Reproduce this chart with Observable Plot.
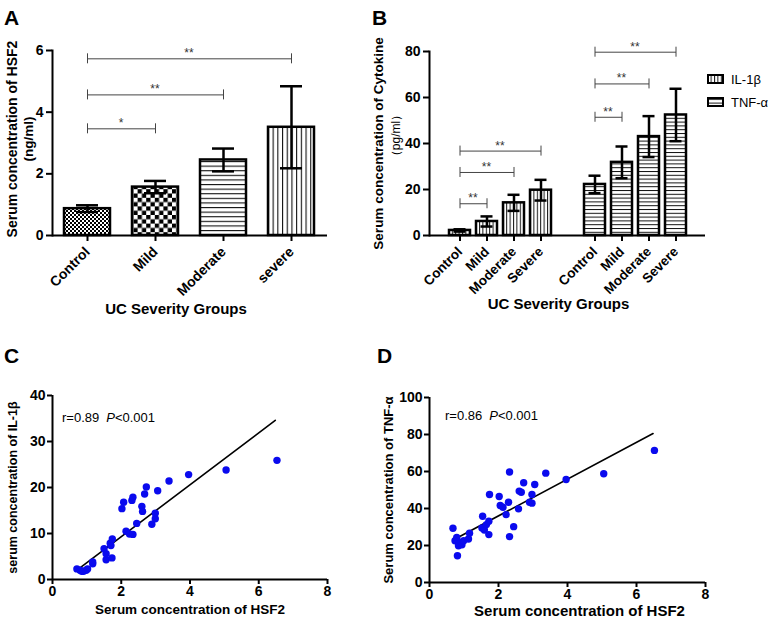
<!DOCTYPE html>
<html><head><meta charset="utf-8">
<script src="https://cdn.jsdelivr.net/npm/d3@7"></script>
<script src="https://cdn.jsdelivr.net/npm/@observablehq/plot@0.6"></script>
<style>
body{margin:0;background:#fff;}
#fig{position:relative;width:779px;height:624px;overflow:hidden;font-family:Arial,"Liberation Sans",Helvetica,sans-serif;}
</style></head><body><div id="fig"></div>
<script>
// ---------------- data ----------------
// Panel A: serum HSF2 by UC severity (mean, error)
const groupsA = ["Control", "Mild", "Moderate", "severe"];
const hsf2Mean = [0.87, 1.57, 2.45, 3.51];
const hsf2Err = [0.11, 0.2, 0.37, 1.33];
const sigATo = ["Mild", "Moderate", "severe"];
const sigAY = [3.46, 4.56, 5.73];
const sigALabel = ["*", "**", "**"];
const ticksA = [0, 2, 4, 6];

// Panel B: cytokines by UC severity
const groupsB = ["Control", "Mild", "Moderate", "Severe"];
const cytokines = ["IL-1β", "TNF-α"];
const il1bMean = [2.2, 6.1, 14.2, 19.7];
const il1bErr = [0.5, 2.2, 3.5, 4.5];
const tnfMean = [22.2, 31.8, 43.0, 52.4];
const tnfErr = [3.8, 6.9, 8.9, 11.4];
const sigBCyto = ["IL-1β", "IL-1β", "IL-1β", "TNF-α", "TNF-α", "TNF-α"];
const sigBTo = ["Mild", "Moderate", "Severe", "Mild", "Moderate", "Severe"];
const sigBY = [13.8, 27.4, 36.7, 51.4, 65.9, 79.7];
const sigBLabel = ["**", "**", "**", "**", "**", "**"];
const ticksB = [0, 20, 40, 60, 80];

// Panel C: HSF2 vs IL-1β
const hsf2C = [0.71,0.8,0.85,0.9,0.98,1.02,1.17,1.17,1.5,1.56,1.56,1.68,1.7,1.73,1.74,2.02,2.07,2.14,2.24,2.34,2.31,2.34,2.45,2.6,2.62,2.68,2.73,2.89,2.99,2.99,3.06,3.39,3.96,5.05,6.53];
const il1bC = [2.3,2.0,1.8,1.8,2.0,2.3,3.4,3.8,6.7,4.3,5.6,7.9,7.4,4.7,8.8,15.4,16.8,10.5,9.9,9.8,17.2,17.9,12.2,15.9,14.8,18.6,20.1,12.0,13.2,14.4,19.3,21.4,22.8,23.8,25.9];
const fitCX = [0.76, 6.48];
const fitCY = [2.3, 34.6];
const ticksCX = [0, 2, 4, 6, 8];
const ticksCY = [0, 10, 20, 30, 40];

// Panel D: HSF2 vs TNF-α
const hsf2D = [0.68,0.74,0.79,0.81,0.84,0.91,0.94,0.99,1.13,1.16,1.52,1.54,1.59,1.65,1.72,1.72,1.74,2.02,2.05,2.13,2.22,2.29,2.32,2.32,2.44,2.58,2.6,2.66,2.73,2.9,2.97,2.97,3.05,3.37,3.96,5.05,6.52];
const tnfD = [29.3,22.6,24.4,14.5,19.9,21.7,20.4,22.6,23.5,26.6,29.5,35.8,28.4,31.3,33.1,25.9,47.6,46.5,41.6,40.7,36.7,43.4,24.8,59.7,30.2,39.8,49.4,48.8,53.9,43.4,42.9,47.6,53.0,59.1,55.7,58.8,71.4];
const fitDX = [0.70, 6.48];
const fitDY = [23.1, 80.5];
const ticksDY = [0, 20, 40, 60, 80, 100];

// ---------------- styles ----------------
const FONT = 'Arial, "Liberation Sans", Helvetica, sans-serif';
const patA = {Control: "url(#pChkFine)", Mild: "url(#pChkCoarse)", Moderate: "url(#pHA)", severe: "url(#pVA)"};
const patB = {"IL-1β": "url(#pVB)", "TNF-α": "url(#pHB)"};
const baseStyle = {background: "none", overflow: "visible", fontFamily: FONT, fontSize: "14px", fontWeight: "bold", color: "black"};
const intFmt = d => String(d);

const fig = document.getElementById("fig");
function place(node, left, top) {
  node.style.position = "absolute";
  node.style.left = left + "px";
  node.style.top = top + "px";
  fig.appendChild(node);
}

// pattern defs + overlay texts
const overlay = d3.create("svg").attr("width", 779).attr("height", 624)
  .style("font-family", FONT);
const defs = overlay.append("defs");
function pat(id, w, h, draw) {
  const p = defs.append("pattern").attr("id", id).attr("patternUnits", "userSpaceOnUse").attr("width", w).attr("height", h);
  p.append("rect").attr("width", w).attr("height", h).attr("fill", "white");
  draw(p);
}
pat("pChkFine", 4, 4, p => { p.append("rect").attr("width", 2).attr("height", 2); p.append("rect").attr("x", 2).attr("y", 2).attr("width", 2).attr("height", 2); });
pat("pChkCoarse", 8.6, 8.6, p => { p.append("rect").attr("width", 4.3).attr("height", 4.3); p.append("rect").attr("x", 4.3).attr("y", 4.3).attr("width", 4.3).attr("height", 4.3); });
pat("pHA", 10, 4.6, p => p.append("rect").attr("width", 10).attr("height", 1.1).attr("fill", "#111"));
pat("pVA", 4.7, 10, p => p.append("rect").attr("width", 1.1).attr("height", 10).attr("fill", "#111"));
pat("pVB", 3.4, 10, p => p.append("rect").attr("width", 1).attr("height", 10).attr("fill", "#111"));
pat("pHB", 10, 3.8, p => p.append("rect").attr("width", 10).attr("height", 1).attr("fill", "#111"));

// significance star labels, positioned through the plot's own scales
function stars(rows) {
  return (index, scales) => {
    const {x, y} = scales;
    const half = x.bandwidth ? x.bandwidth() / 2 : 0;
    const g = d3.create("svg:g").attr("fill", "#333").attr("font-size", 12)
      .attr("font-weight", "normal").attr("text-anchor", "middle");
    for (const r of rows) {
      g.append("text").attr("x", (x(r.from) + x(r.to)) / 2 + half).attr("y", y(r.y) - 1).text(r.label);
    }
    return g.node();
  };
}

function bracketMarks(rows) {
  return [
    Plot.link(rows, {x1: "from", x2: "to", y1: "y", y2: "y", stroke: "#444", strokeWidth: 1}),
    Plot.ruleX(rows, {x: "from", y1: "y", y2: "y", insetTop: -5, insetBottom: -5, stroke: "#444", strokeWidth: 1}),
    Plot.ruleX(rows, {x: "to", y1: "y", y2: "y", insetTop: -5, insetBottom: -5, stroke: "#444", strokeWidth: 1}),
    stars(rows)
  ];
}

function yLabel(text, dx, dy, fontSize, extra = {}) {
  return Plot.text([text], {frameAnchor: "left", textAnchor: "middle", lineAnchor: "middle", rotate: -90, dx, dy, fontSize, ...extra});
}

// ---------------- Panel A ----------------
const dataA = groupsA.map((g, i) => ({group: g, mean: hsf2Mean[i], err: hsf2Err[i]}));
const brA = sigATo.map((t, i) => ({from: "Control", to: t, y: sigAY[i], label: sigALabel[i]}));
const chartA = Plot.plot({
  width: 370, height: 320, marginLeft: 52, marginRight: 43, marginTop: 50, marginBottom: 85,
  style: baseStyle,
  x: {domain: groupsA, paddingInner: 0.317, paddingOuter: 0.16},
  y: {domain: [0, 6]},
  color: {type: "identity"},
  marks: [
    Plot.barY(dataA, {x: "group", y: "mean", fill: d => patA[d.group], stroke: "black", strokeWidth: 2.5}),
    Plot.ruleX(dataA, {x: "group", y1: d => d.mean - d.err, y2: d => d.mean + d.err, strokeWidth: 2.5}),
    Plot.tickY(dataA, {x: "group", y: d => d.mean + d.err, insetLeft: 12, insetRight: 12, strokeWidth: 2.5}),
    Plot.tickY(dataA, {x: "group", y: d => d.mean - d.err, insetLeft: 12, insetRight: 12, strokeWidth: 2.5}),
    ...bracketMarks(brA),
    Plot.axisY({ticks: ticksA, tickFormat: intFmt, tickSize: 6, tickPadding: 3, strokeWidth: 2, fontSize: 14, label: null}),
    Plot.axisX({tickRotate: -45, tickSize: 6, tickPadding: 8, strokeWidth: 2, fontSize: 14, label: null}),
    Plot.frame({anchor: "left", strokeWidth: 2}),
    Plot.ruleY([0], {strokeWidth: 2}),
    yLabel("Serum concentration of HSF2", -40, -4, 14),
    yLabel("(ng/ml)", -24, -4, 13.5),
    Plot.text(["UC Severity Groups"], {frameAnchor: "bottom", dx: -14, dy: 78, fontSize: 15})
  ]
});
place(chartA, 0, 0);

// ---------------- Panel B ----------------
const keyB = (c, g) => c + " " + g;
const meansB = {"IL-1β": il1bMean, "TNF-α": tnfMean};
const errsB = {"IL-1β": il1bErr, "TNF-α": tnfErr};
const dataB = cytokines.flatMap(c => groupsB.map((g, i) => ({key: keyB(c, g), cyto: c, group: g, mean: meansB[c][i], err: errsB[c][i]})));
const domainB = [...groupsB.map(g => keyB(cytokines[0], g)), "gap", ...groupsB.map(g => keyB(cytokines[1], g))];
const brB = sigBTo.map((t, i) => ({from: keyB(sigBCyto[i], "Control"), to: keyB(sigBCyto[i], t), y: sigBY[i], label: sigBLabel[i]}));
const chartB = Plot.plot({
  width: 419, height: 320, marginLeft: 69, marginRight: 74, marginTop: 51, marginBottom: 85,
  style: baseStyle,
  x: {domain: domainB, paddingInner: 0.24, paddingOuter: 0.62},
  y: {domain: [0, 80]},
  color: {type: "identity"},
  marks: [
    Plot.barY(dataB, {x: "key", y: "mean", fill: d => patB[d.cyto], stroke: "black", strokeWidth: 2.5}),
    Plot.ruleX(dataB, {x: "key", y1: d => d.mean - d.err, y2: d => d.mean + d.err, strokeWidth: 2.5}),
    Plot.tickY(dataB, {x: "key", y: d => d.mean + d.err, insetLeft: 4.5, insetRight: 4.5, strokeWidth: 2.5}),
    Plot.tickY(dataB, {x: "key", y: d => d.mean - d.err, insetLeft: 4.5, insetRight: 4.5, strokeWidth: 2.5}),
    ...bracketMarks(brB),
    Plot.axisY({ticks: ticksB, tickFormat: intFmt, tickSize: 6, tickPadding: 3, strokeWidth: 2, fontSize: 14, label: null}),
    Plot.axisX({ticks: domainB.filter(k => k !== "gap"), tickFormat: k => k.split(" ")[1], tickRotate: -45, tickSize: 6, tickPadding: 8, strokeWidth: 2, fontSize: 13.5, label: null}),
    Plot.frame({anchor: "left", strokeWidth: 2}),
    Plot.ruleY([0], {strokeWidth: 2}),
    yLabel("Serum concentration of Cytokine", -51, 0, 13.5),
    yLabel("（pg/ml）", -33, -8, 12, {fontWeight: "normal"}),
    Plot.text(["UC Severity Groups"], {frameAnchor: "bottom", dx: -9, dy: 73, fontSize: 15})
  ]
});
place(chartB, 360, 0);

// ---------------- Panel C ----------------
const pointsC = hsf2C.map((x, i) => ({x, y: il1bC[i]}));
const fitC = fitCX.map((x, i) => ({x, y: fitCY[i]}));
const chartC = Plot.plot({
  width: 370, height: 304, marginLeft: 52, marginRight: 43, marginTop: 75, marginBottom: 45,
  style: baseStyle,
  x: {domain: [0, 8]}, y: {domain: [0, 40]},
  marks: [
    Plot.line(fitC, {x: "x", y: "y", strokeWidth: 1.6}),
    Plot.dot(pointsC, {x: "x", y: "y", r: 3.7, fill: "#0a0aee"}),
    Plot.axisX({ticks: ticksCX, tickFormat: intFmt, tickSize: 5, tickPadding: 2, strokeWidth: 2, fontSize: 14, label: null}),
    Plot.axisY({ticks: ticksCY, tickFormat: intFmt, tickSize: 5, tickPadding: 2, strokeWidth: 2, fontSize: 14, label: null}),
    Plot.ruleX([0], {strokeWidth: 2}),
    Plot.ruleY([0], {strokeWidth: 2}),
    yLabel("serum concentration of IL-1β", -40, 0, 12.5),
    Plot.text(["Serum concentration of HSF2"], {frameAnchor: "bottom", dy: 34, fontSize: 13.5})
  ]
});
place(chartC, 0, 320);

// ---------------- Panel D ----------------
const pointsD = hsf2D.map((x, i) => ({x, y: tnfD[i]}));
const fitD = fitDX.map((x, i) => ({x, y: fitDY[i]}));
const chartD = Plot.plot({
  width: 419, height: 304, marginLeft: 69, marginRight: 74, marginTop: 77, marginBottom: 42,
  style: baseStyle,
  x: {domain: [0, 8]}, y: {domain: [0, 100]},
  marks: [
    Plot.line(fitD, {x: "x", y: "y", strokeWidth: 1.6}),
    Plot.dot(pointsD, {x: "x", y: "y", r: 3.7, fill: "#0a0aee"}),
    Plot.axisX({ticks: ticksCX, tickFormat: intFmt, tickSize: 5, tickPadding: 2, strokeWidth: 2, fontSize: 14, label: null}),
    Plot.axisY({ticks: ticksDY, tickFormat: intFmt, tickSize: 5, tickPadding: 2, strokeWidth: 2, fontSize: 14, label: null}),
    Plot.ruleX([0], {strokeWidth: 2}),
    Plot.ruleY([0], {strokeWidth: 2}),
    yLabel("Serum concentration of TNF-α", -41, 0, 13),
    Plot.text(["Serum concentration of HSF2"], {frameAnchor: "bottom", dx: 12, dy: 33, fontSize: 15})
  ]
});
place(chartD, 360, 320);

// ---------------- overlay: panel letters, legend, r/P annotations ----------------
const letters = [["A", 4, 25], ["B", 372, 25], ["C", 4, 363], ["D", 377, 363]];
for (const [t, x, y] of letters) {
  overlay.append("text").attr("x", x).attr("y", y).attr("font-size", 21).attr("font-weight", "bold").text(t);
}
cytokines.forEach((c, i) => {
  const y0 = 75 + i * 23;
  overlay.append("rect").attr("x", 708).attr("y", y0).attr("width", 15).attr("height", 8)
    .attr("fill", patB[c]).attr("stroke", "black").attr("stroke-width", 2);
  overlay.append("text").attr("x", 731).attr("y", y0 + 9).attr("font-size", 13).text(c);
});
function stat(x, y, r) {
  const t = overlay.append("text").attr("x", x).attr("y", y).attr("font-size", 13);
  t.append("tspan").text("r=" + r);
  t.append("tspan").attr("dx", 7).attr("font-style", "italic").text("P");
  t.append("tspan").text("<0.001");
}
stat(62, 422, "0.89");
stat(445, 420, "0.86");
place(overlay.node(), 0, 0);
</script></body></html>
